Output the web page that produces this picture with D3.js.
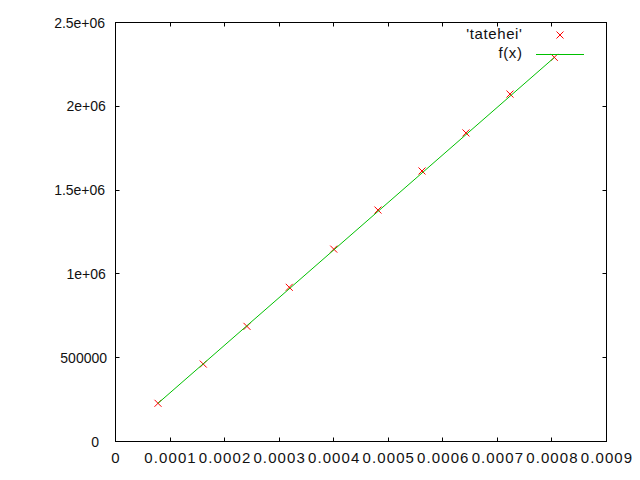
<!DOCTYPE html>
<html>
<head>
<meta charset="utf-8">
<script src="https://cdn.jsdelivr.net/npm/d3@7"></script>
<style>
  html, body { margin: 0; padding: 0; background: #fff; }
  svg { display: block; }
  text { font-family: "Liberation Sans", Arial, sans-serif; fill: #111; }
  .xlab { font-size: 15px; letter-spacing: 1.1px; }
  .ylab { font-size: 14px; }
  .leg { font-size: 15px; letter-spacing: 0.6px; }
</style>
</head>
<body>
<svg id="chart" width="640" height="480"></svg>
<script>
// Data
const xValues = [0.0000779, 0.0001609, 0.000241, 0.0003185, 0.0004, 0.0004811, 0.0005618, 0.0006424, 0.0007231, 0.0008043];
const yValues = [228000, 462000, 687000, 920000, 1148000, 1381000, 1614000, 1841000, 2073000, 2292000];
// fitted function f(x) = fitA * x + fitB
const fitA = 2.84e9;
const fitB = 6700;
const xTicks = [0, 0.0001, 0.0002, 0.0003, 0.0004, 0.0005, 0.0006, 0.0007, 0.0008, 0.0009];
const xTickLabels = ["0", "0.0001", "0.0002", "0.0003", "0.0004", "0.0005", "0.0006", "0.0007", "0.0008", "0.0009"];
const yTicks = [0, 500000, 1000000, 1500000, 2000000, 2500000];
const yTickLabels = ["0", "500000", "1e+06", "1.5e+06", "2e+06", "2.5e+06"];
const seriesNames = ["'tatehei'", "f(x)"];

const svg = d3.select("#chart");
const L = 115.5, R = 606.5, T = 22.5, B = 441.5;
const x = d3.scaleLinear().domain([0, 0.0009]).range([L, R]);
const y = d3.scaleLinear().domain([0, 2500000]).range([B, T]);
const tick = 4;

// ticks (inward, mirrored)
const tg = svg.append("g").attr("stroke", "#000").attr("stroke-width", 1);
xTicks.forEach(v => {
  const px = Math.round(x(v) - 0.5) + 0.5;
  tg.append("line").attr("x1", px).attr("x2", px).attr("y1", B).attr("y2", B - tick);
  tg.append("line").attr("x1", px).attr("x2", px).attr("y1", T).attr("y2", T + tick);
});
yTicks.forEach(v => {
  const py = Math.round(y(v) - 0.5) + 0.5;
  tg.append("line").attr("x1", L).attr("x2", L + tick).attr("y1", py).attr("y2", py);
  tg.append("line").attr("x1", R).attr("x2", R - tick).attr("y1", py).attr("y2", py);
});

// frame
svg.append("rect").attr("x", L).attr("y", T).attr("width", R - L).attr("height", B - T)
  .attr("fill", "none").attr("stroke", "#000").attr("stroke-width", 1);

// tick labels
xTicks.forEach((v, i) => {
  svg.append("text").attr("class", "xlab").attr("x", x(v) + 0.5).attr("y", 463)
    .attr("text-anchor", "middle").text(xTickLabels[i]);
});
// gnuplot-style right justification by estimated character count
const yLabAnchor = 97.4, estChar = 6.18;
yTicks.forEach((v, i) => {
  const s = yTickLabels[i];
  svg.append("text").attr("class", "ylab").attr("x", yLabAnchor - s.length * estChar).attr("y", y(v) + 5)
    .attr("text-anchor", "start").text(s);
});

// points
const data = xValues.map((v, i) => ({ x: v, y: yValues[i] }));
const cross = 3.5;
const pg = svg.append("g").attr("stroke", "#ff0000").attr("stroke-width", 1);
data.forEach(d => {
  const px = x(d.x), py = y(d.y);
  pg.append("path").attr("d", `M${px - cross},${py - cross}L${px + cross},${py + cross}M${px - cross},${py + cross}L${px + cross},${py - cross}`);
});

// fitted line over data x-range
const xmin = d3.min(xValues), xmax = d3.max(xValues);
const lineData = [xmin, xmax].map(v => ({ x: v, y: fitA * v + fitB }));
svg.append("path").datum(lineData)
  .attr("d", d3.line().x(d => x(d.x)).y(d => y(d.y)))
  .attr("fill", "none").attr("stroke", "#00c000").attr("stroke-width", 1);

// legend
svg.append("text").attr("class", "leg").attr("x", 522.5).attr("y", 39).attr("text-anchor", "end").text(seriesNames[0]);
svg.append("path").attr("stroke", "#ff0000").attr("stroke-width", 1)
  .attr("d", `M${560 - cross},${35 - cross}L${560 + cross},${35 + cross}M${560 - cross},${35 + cross}L${560 + cross},${35 - cross}`);
svg.append("text").attr("class", "leg").attr("x", 522.5).attr("y", 58).attr("text-anchor", "end").text(seriesNames[1]);
svg.append("line").attr("x1", 536).attr("x2", 584).attr("y1", 54.5).attr("y2", 54.5)
  .attr("stroke", "#00c000").attr("stroke-width", 1);
</script>
</body>
</html>
